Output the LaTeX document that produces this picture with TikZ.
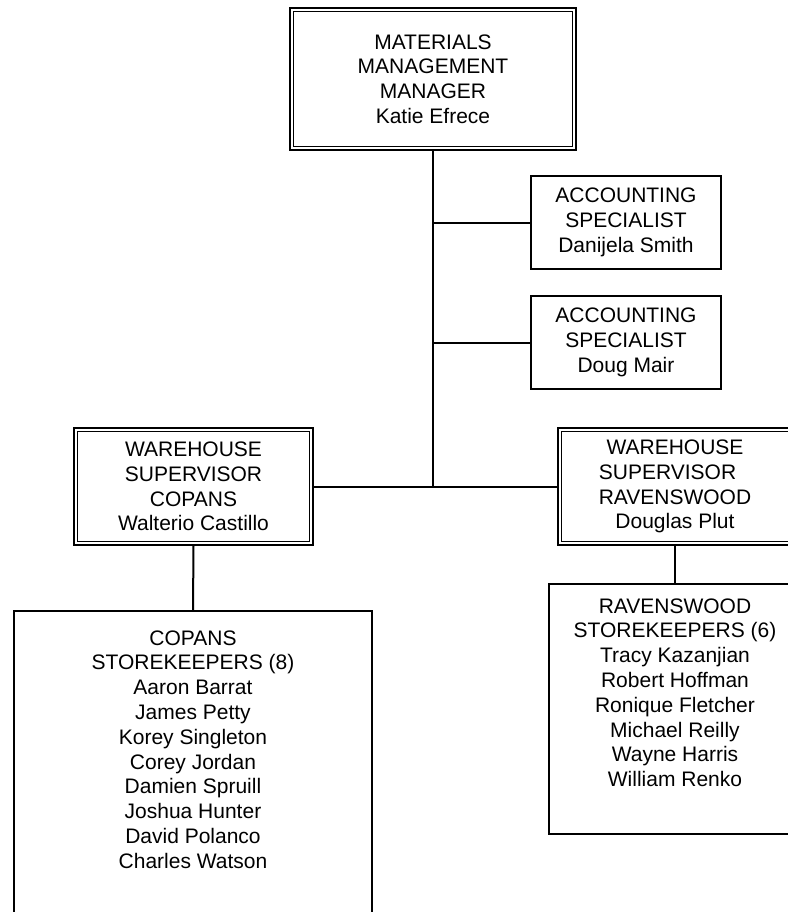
\documentclass[tikz,border=0pt]{standalone}
\usepackage{fontspec}
\setmainfont{Liberation Sans}
\begin{document}
\begin{tikzpicture}[x=0.5pt,y=-0.5pt,
  every node/.style={font=\fontsize{10.5}{12.4}\selectfont, align=center, inner sep=0pt},
  dblbox/.style 2 args={draw, line width=1pt, outer sep=0.5pt,
    minimum width=#1, minimum height=#2,
    path picture={\draw[line width=0.5pt]
      ([shift={(1.9pt,-1.9pt)}]path picture bounding box.north west) rectangle
      ([shift={(-1.9pt,1.9pt)}]path picture bounding box.south east);}},
  box/.style 2 args={draw, line width=1pt, outer sep=0.5pt,
    minimum width=#1, minimum height=#2},
  link/.style={line width=1pt}]
\useasboundingbox (0,0) rectangle (788,912);
\clip (0,0) rectangle (788,912);

% management
\node[dblbox={143pt}{71pt}] (mgr) at (433,79)
  {MATERIALS\\MANAGEMENT\\MANAGER\\Katie Efrece};

% accounting staff
\node[box={95pt}{46.5pt}] (acc1) at (626,222.5)
  {ACCOUNTING\\SPECIALIST\\Danijela Smith};
\node[box={95pt}{46.5pt}] (acc2) at (626,342.5)
  {ACCOUNTING\\SPECIALIST\\Doug Mair};

% warehouse supervisors
\node[dblbox={119.5pt}{58.5pt}] (cop) at (193.5,486.5)
  {WAREHOUSE\\SUPERVISOR\\COPANS\\Walterio Castillo};
\node[dblbox={117pt}{58.5pt}] (rav) at (675,486.5)
  {WAREHOUSE\\SUPERVISOR\rule{7.5pt}{0pt}\\RAVENSWOOD\\Douglas Plut};

% storekeeper crews
\node[box={179pt}{159.5pt}] (copst) at (193,770.5) {};
\node[anchor=north] (copstl) at (193,630)
  {COPANS\\STOREKEEPERS (8)\\Aaron Barrat\\James Petty\\Korey Singleton\\Corey Jordan\\Damien Spruill\\Joshua Hunter\\David Polanco\\Charles Watson};
\node[box={126pt}{125pt}] (ravst) at (675,709) {};
\node[anchor=north] (ravstl) at (675,598)
  {RAVENSWOOD\\STOREKEEPERS (6)\\Tracy Kazanjian\\Robert Hoffman\\Ronique Fletcher\\Michael Reilly\\Wayne Harris\\William Renko};

% reporting lines
\draw[link] (mgr.south) -- (mgr.south |- cop.east);
\draw[link] (acc1.west) -- (acc1.west -| mgr.south);
\draw[link] (acc2.west) -- (acc2.west -| mgr.south);
\draw[link] (cop.east) -- (rav.west);
\draw[link] (cop.south) -- (copst.north);
\draw[link] (rav.south) -- (ravst.north);
\end{tikzpicture}
\end{document}
